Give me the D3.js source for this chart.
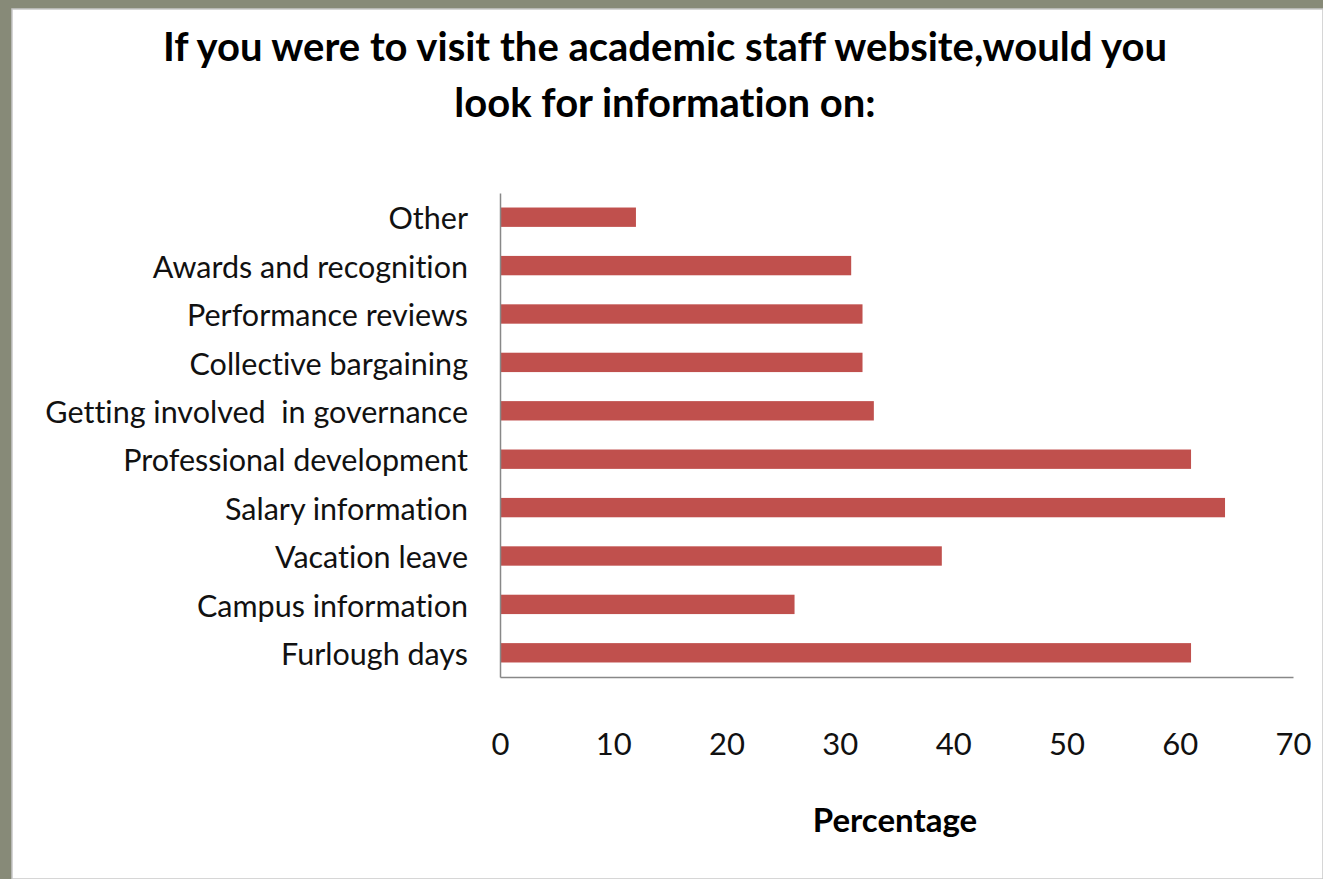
<!DOCTYPE html>
<html>
<head>
<meta charset="utf-8">
<script src="https://cdn.jsdelivr.net/npm/d3@7"></script>
<style>
  html, body { margin: 0; padding: 0; background: #878a78; }
  svg { display: block; font-variant-ligatures: none; }
</style>
</head>
<body>
<div id="chart"></div>
<script>
const categories = [
  "Other",
  "Awards and recognition",
  "Performance reviews",
  "Collective bargaining",
  "Getting involved  in governance",
  "Professional development",
  "Salary information",
  "Vacation leave",
  "Campus information",
  "Furlough days"
];
const percentages = [12, 31, 32, 32, 33, 61, 64, 39, 26, 61];
const xTicks = [0, 10, 20, 30, 40, 50, 60, 70];
const titleLines = [
  "If you were to visit the academic staff website,would you",
  "look for information on:"
];
const xTitle = "Percentage";

const
  width = 1323,
  height = 879;

const margin = {top: 193, right: 30, bottom: 202, left: 500};

const svg = d3.select("#chart")
  .append("svg")
  .attr("width", width)
  .attr("height", height);

// grey frame behind the white slide
svg.append("rect")
  .attr("x", 0).attr("y", 0)
  .attr("width", width).attr("height", height)
  .attr("fill", "#878a78");
svg.append("rect")
  .attr("x", 12).attr("y", 9)
  .attr("width", width - 12).attr("height", height - 9)
  .attr("fill", "#ffffff")
  .attr("stroke", "#c8c8c8")
  .attr("stroke-width", 1.5);

const x = d3.scaleLinear()
  .domain([0, 70])
  .range([margin.left, 1293]);

const y = d3.scaleBand()
  .domain(categories)
  .range([margin.top, height - margin.bottom])
  .paddingInner(0.6)
  .paddingOuter(0.3);

// title
svg.append("g")
  .selectAll("text")
  .data(titleLines)
  .enter().append("text")
  .attr("x", 665)
  .attr("y", (d, i) => 61 + i * 56)
  .attr("text-anchor", "middle")
  .attr("font-family", "Lato, sans-serif")
  .attr("font-weight", "bold")
  .attr("font-size", 40)
  .attr("fill", "#000")
  .text(d => d);

// bars
svg.append("g")
  .selectAll("rect")
  .data(categories)
  .enter().append("rect")
  .attr("x", x(0))
  .attr("y", d => y(d))
  .attr("width", (d, i) => x(percentages[i]) - x(0))
  .attr("height", y.bandwidth())
  .attr("fill", "#c0504d");

// y axis
const yAxis = svg.append("g")
  .attr("transform", "translate(" + x(0) + ",0)")
  .call(d3.axisLeft(y).tickSize(0).tickPadding(32));
yAxis.select(".domain").attr("stroke", "#888").attr("stroke-width", 1.5);
yAxis.selectAll("text")
  .attr("font-family", "Lato, sans-serif")
  .attr("font-size", 30.5)
  .attr("dy", "0.4em")
  .attr("fill", "#111")
  .style("white-space", "pre");

// x axis
const xAxis = svg.append("g")
  .attr("transform", "translate(0," + (height - margin.bottom) + ")")
  .call(d3.axisBottom(x).tickValues(xTicks).tickSize(0).tickPadding(56).tickSizeOuter(0));
xAxis.select(".domain").attr("stroke", "#888").attr("stroke-width", 1.5);
xAxis.selectAll("text")
  .attr("font-family", "Lato, sans-serif")
  .attr("font-size", 31)
  .attr("fill", "#111");

// axis title
svg.append("text")
  .attr("x", 895)
  .attr("y", 832)
  .attr("text-anchor", "middle")
  .attr("font-family", "Lato, sans-serif")
  .attr("font-weight", "bold")
  .attr("font-size", 33)
  .attr("fill", "#000")
  .text(xTitle);
</script>
</body>
</html>
